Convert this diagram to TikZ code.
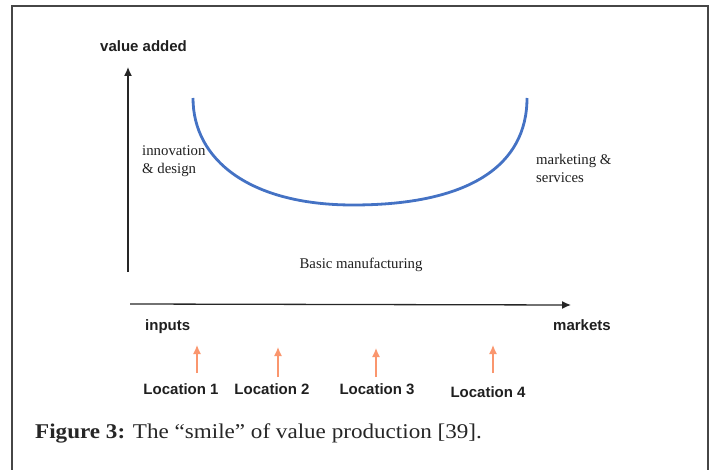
\documentclass[tikz,border=0pt]{standalone}
\usepackage{fontspec}
\setmainfont{Liberation Serif}
\newfontfamily\arialfont{Liberation Sans}
\newfontfamily\capfont[FakeStretch=1.1]{Liberation Serif}
\usetikzlibrary{arrows.meta}
\definecolor{smileblue}{RGB}{68,114,196}
\definecolor{locorange}{RGB}{250,150,110}
\definecolor{framegray}{RGB}{70,70,70}
\tikzset{
  axis/.style={line width=1.3pt, black!85, -{Latex[length=9pt,width=8pt]}},
  locarrow/.style={line width=1.3pt, locorange, -{Latex[length=9pt,width=8pt]}},
  sanslabel/.style={font=\arialfont\bfseries\fontsize{15}{18}\selectfont, inner sep=0pt, text=black!88},
  seriflabel/.style={font=\fontsize{14.8}{18}\selectfont, inner sep=0pt, align=left, text=black!88},
  smile/.style={line width=2.8pt, smileblue},
}
\begin{document}
\begin{tikzpicture}[x=1pt,y=-1pt]
\useasboundingbox (0,0) rectangle (714,470);
% frame
\draw[framegray, line width=1.5pt] (12,475) -- (12,6) -- (708,6) -- (708,475);
% axes
\coordinate (yb) at (128,272);
\coordinate (yt) at (128,67);
\coordinate (xl) at (130,304);
\coordinate (xr) at (571,305);
\draw[axis] (yb) -- (yt);
\draw[axis] (xl) -- (xr);
% axis labels
\node[sanslabel, anchor=base west] (va) at (100,52) {value added};
\node[sanslabel, anchor=base west] (inp) at (145,330) {inputs};
\node[sanslabel, anchor=base west] (mkt) at (553,330) {markets};
% smile curve
\coordinate (sl) at (193,98);
\coordinate (sb) at (353,205);
\coordinate (sr) at (527,98);
\draw[smile] (sl) .. controls (193,160) and (250,205) .. (sb)
                  .. controls (470,205) and (527,165) .. (sr);
% curve labels
\node[seriflabel, anchor=base west] (inno) at (142,174) {innovation\\\& design};
\node[seriflabel, anchor=base west] (mark) at (536,183) {marketing \&\\services};
\node[seriflabel, anchor=base] (basic) at (361,269) {Basic manufacturing};
% locations
\node[sanslabel, anchor=base] (l1) at (181,394) {Location 1};
\node[sanslabel, anchor=base] (l2) at (272,394) {Location 2};
\node[sanslabel, anchor=base] (l3) at (377,394) {Location 3};
\node[sanslabel, anchor=base] (l4) at (488,397) {Location 4};
\coordinate (a1b) at (197,373); \coordinate (a1t) at (197,345);
\coordinate (a2b) at (278,377); \coordinate (a2t) at (278,347);
\coordinate (a3b) at (376,377); \coordinate (a3t) at (376,348);
\coordinate (a4b) at (493,373); \coordinate (a4t) at (493,345);
\draw[locarrow] (a1b) -- (a1t);
\draw[locarrow] (a2b) -- (a2t);
\draw[locarrow] (a3b) -- (a3t);
\draw[locarrow] (a4b) -- (a4t);
% caption
\node[anchor=base west, inner sep=0pt, font=\capfont\fontsize{21}{24}\selectfont, text=black!85] (cap) at (35,438)
  {\textbf{Figure 3:} The “smile” of value production [39].};
\end{tikzpicture}
\end{document}
